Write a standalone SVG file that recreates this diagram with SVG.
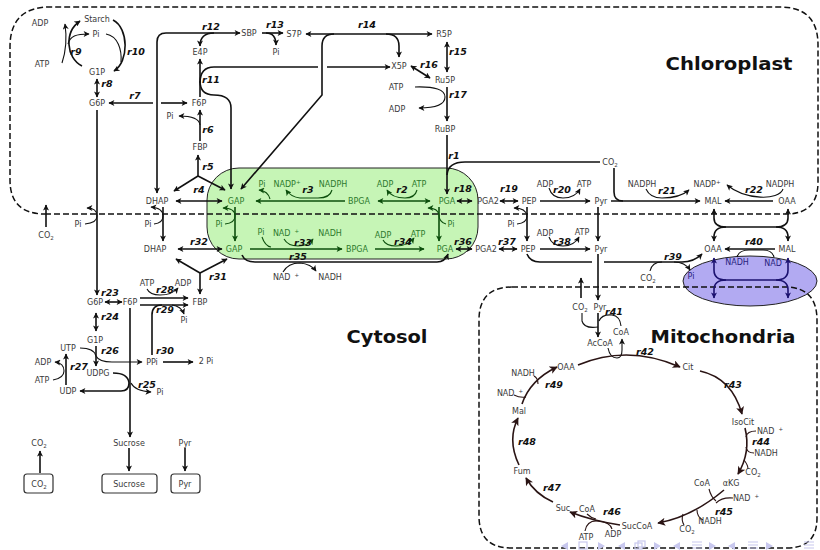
<svg xmlns="http://www.w3.org/2000/svg" width="820" height="550" viewBox="0 0 820 550">
<defs>
<style>
.k{fill:none;stroke:#111;stroke-width:1.6}
.c{fill:none;stroke:#111;stroke-width:1.1}
.g{stroke:#0d4f0d}
.n{stroke:#1c1270}
.x{stroke:#2a1414}
.e{marker-end:url(#ah)}
.s{marker-start:url(#ah)}
.ge{marker-end:url(#ahg)}
.gs{marker-start:url(#ahg)}
.ne{marker-end:url(#ahn)}
.ns{marker-start:url(#ahn)}
.xe{marker-end:url(#ahx)}
.t{font-family:"DejaVu Sans","Liberation Sans",sans-serif;font-size:8px;fill:#3a3a3a;text-anchor:middle}
.tg{fill:#2d7a2d}
.tn{fill:#281d80}
.r{font-family:"DejaVu Sans","Liberation Sans",sans-serif;font-size:9.5px;font-weight:bold;font-style:italic;fill:#111;text-anchor:middle}
.h{font-family:"DejaVu Sans","Liberation Sans",sans-serif;font-size:18px;font-weight:bold;fill:#111;text-anchor:middle}
.dash{fill:none;stroke:#111;stroke-width:1.5;stroke-dasharray:6 3}
.box{fill:#fff;stroke:#333;stroke-width:1.2}
.nv{fill:#c8c8ee;stroke:none}
.nvl{fill:none;stroke:#c8c8ee;stroke-width:1.2}
</style>
<marker id="ah" viewBox="0 0 10 10" refX="9" refY="5" markerWidth="7" markerHeight="6" markerUnits="userSpaceOnUse" orient="auto-start-reverse"><path d="M0,0 L10,5 L0,10 L2.5,5 Z" fill="#111"/></marker>
<marker id="ahg" viewBox="0 0 10 10" refX="9" refY="5" markerWidth="7" markerHeight="6" markerUnits="userSpaceOnUse" orient="auto-start-reverse"><path d="M0,0 L10,5 L0,10 L2.5,5 Z" fill="#0d4f0d"/></marker>
<marker id="ahn" viewBox="0 0 10 10" refX="9" refY="5" markerWidth="7" markerHeight="6" markerUnits="userSpaceOnUse" orient="auto-start-reverse"><path d="M0,0 L10,5 L0,10 L2.5,5 Z" fill="#1c1270"/></marker>
<marker id="ahx" viewBox="0 0 10 10" refX="9" refY="5" markerWidth="9" markerHeight="8" markerUnits="userSpaceOnUse" orient="auto-start-reverse"><path d="M0,0 L10,5 L0,10 L2.5,5 Z" fill="#2a1414"/></marker>
</defs>
<rect width="820" height="550" fill="#fff"/>

<g id="regions">
<rect x="207" y="168" width="271" height="91" rx="32" fill="#c6f5b6" stroke="#222" stroke-width="1"/>
<ellipse cx="750" cy="281" rx="67" ry="25" fill="#b2aaf2" stroke="#222" stroke-width="1"/>
<path class="dash" d="M45 214 L786 214 Q818 214 818 182 L818 45 Q818 7 780 7 L50 7 Q10 7 10 47 L10 180 Q10 214 45 214 Z"/>
<path class="dash" d="M512 287 L785 287 Q817 287 817 320 L817 518 Q817 548 787 548 L511 548 Q479 548 479 516 L479 320 Q479 287 512 287 Z"/>
</g>

<g id="connectors">
<path class="k e" d="M82 66 C66 58 64 32 80 21"/>
<path class="c e" d="M62 63 Q68 45 65 24"/>
<path class="c e" d="M68 44 C70 36 76 34 89 34"/>
<path class="k e" d="M113 20 C129 28 129 62 114 71"/>
<path class="c" d="M106 34 C118 36 122 50 121 62"/>
<path class="k s e" d="M97 79 L97 97"/>
<path class="k s" d="M109 103 L153 103"/>
<path class="k e" d="M161 103 L187 103"/>
<path class="k e" d="M97 110 L97 295"/>
<path class="k e" d="M200 141 L200 110"/>
<path class="c e" d="M200 125 Q199 116 179 116"/>
<path class="k e" d="M198 176 L198 155"/>
<path class="k e" d="M198 176 L174 191"/>
<path class="k e" d="M198 176 L225 190"/>
<path class="k s e" d="M176 201 L222 201"/>
<path class="k s e" d="M157 193 L157 42 Q157 33 166 33 L240 33"/>
<path class="k e" d="M214 33 Q200 33 200 46"/>
<path class="k e" d="M200 97 L200 59"/>
<path class="k" d="M200 83 Q200 67 214 67 L318 67"/>
<path class="k e" d="M327 67 L390 67"/>
<path class="k e" d="M200 81 Q200 95 214 95 Q231 95 231 108 L231 189"/>
<path class="k e" d="M262 33 L283 33"/>
<path class="k e" d="M266 33 Q276 33 276 45"/>
<path class="k s e" d="M306 34 L432 34"/>
<path class="k e" d="M334 34 Q322 34 322 46 L322 95 L241 189"/>
<path class="k e" d="M386 34 Q399 34 399 46 L399 57"/>
<path class="k s e" d="M447 42 L447 72"/>
<path class="k s e" d="M411 66 L430 78"/>
<path class="k e" d="M447 87 L447 121"/>
<path class="c e" d="M415 87 Q445 86 445 97 Q445 108 419 108"/>
<path class="k e" d="M447 135 L447 194"/>
<path class="k" d="M600 162 L465 162 Q448 162 447 175"/>
<path class="k" d="M614 168 L614 192 Q614 201 623 201"/>
<path class="k g ge" d="M345 201 L256 201"/>
<path class="c g ge" d="M332 190 Q330 198 318 198 L300 198 Q291 197 286 190"/>
<path class="c g ge" d="M270 199 Q268 191 259 190"/>
<path class="k g gs ge" d="M378 201 L430 201"/>
<path class="c g ge" d="M417 190 Q415 198 405 198 Q392 198 387 190"/>
<path class="k g ge" d="M439 207 L439 241"/>
<path class="c g ge" d="M446 224 Q439 222 439 215 Q438 208 428 208"/>
<path class="k g ge" d="M235 207 L235 241"/>
<path class="c g ge" d="M225 224 Q235 223 235 216 Q235 208 223 208"/>
<path class="k s e" d="M457 201 L472 201"/>
<path class="k s e" d="M500 201 L518 201"/>
<path class="k e" d="M540 201 L590 201"/>
<path class="c e" d="M549 188 Q552 198 563 198 Q575 198 580 189"/>
<path class="k e" d="M611 201 L700 201"/>
<path class="c e" d="M646 189 Q650 198 662 198 Q680 198 689 190"/>
<path class="k e" d="M773 201 L725 201"/>
<path class="c e" d="M783 189 C779 201 745 200 727 185"/>
<path class="k s e" d="M714 209 L714 218 Q714 227 726 227 L776 227 Q788 227 788 218 L788 209"/>
<path class="k s" d="M714 241 L714 237 Q714 227 726 227"/>
<path class="k s" d="M788 241 L788 237 Q788 227 776 227"/>
<path class="k e" d="M46 227 L46 205"/>
<path class="c e" d="M85 224 Q97 223 97 216 Q97 208 87 208"/>
<path class="k e" d="M163 207 L163 241"/>
<path class="c e" d="M154 224 Q163 223 163 216 Q163 208 151 207"/>
<path class="k e" d="M527 207 L527 241"/>
<path class="c e" d="M517 224 Q527 223 527 216 Q526 208 514 208"/>
<path class="k e" d="M598 207 L598 241"/>
<path class="k s e" d="M178 249 L222 249"/>
<path class="k e" d="M200 273 L176 259"/>
<path class="k e" d="M200 273 L227 259"/>
<path class="k e" d="M200 273 L200 294"/>
<path class="k g ge" d="M250 249 L342 249"/>
<path class="c g ge" d="M284 239 Q288 246 298 246 Q308 246 313 239"/>
<path class="c g" d="M262 237 Q265 246 271 247"/>
<path class="k g ge" d="M375 249 L424 249"/>
<path class="c g ge" d="M383 240 Q386 246 396 246 Q408 246 414 238"/>
<path class="k s e" d="M456 249 L472 249"/>
<path class="k s e" d="M499 249 L517 249"/>
<path class="k e" d="M540 249 L590 249"/>
<path class="c e" d="M549 237 Q552 246 563 246 Q574 246 579 237"/>
<path class="k e" d="M242 255 Q245 262 255 262 L437 262 Q445 262 448 254"/>
<path class="c e" d="M283 272 Q288 263 300 263 Q311 264 316 271"/>
<path class="k" d="M527 254 Q530 262 540 262 L592 262"/>
<path class="k e" d="M604 262 L682 262 Q694 262 702 254"/>
<path class="c" d="M650 271 Q652 262 662 262"/>
<path class="c e" d="M674 262 Q685 262 690 270"/>
<path class="k e" d="M775 249 L725 249"/>
<path class="c" d="M737 257 Q739 250 749 250 L763 250 Q772 250 774 257"/>
<path class="k n ns ne" d="M714 258 L714 270 Q714 280 726 280 L776 280 Q788 280 788 270 L788 258"/>
<path class="k n ns" d="M714 298 L714 290 Q714 280 726 280"/>
<path class="k n ns" d="M788 298 L788 290 Q788 280 776 280"/>
<path class="k s e" d="M105 302 L122 302"/>
<path class="k e" d="M140 298 L188 298"/>
<path class="c e" d="M147 289 Q150 295 160 295 Q172 295 178 288"/>
<path class="k e" d="M140 305 L188 305"/>
<path class="c e" d="M172 305 Q181 306 184 314"/>
<path class="k" d="M152 355 L152 315 Q152 305 162 305"/>
<path class="k e" d="M163 362 L193 362"/>
<path class="k s e" d="M96 313 L96 331"/>
<path class="k e" d="M96 346 L96 366"/>
<path class="c e" d="M80 348 Q94 348 96 356 Q99 362 112 362 L142 362"/>
<path class="k e" d="M66 385 L66 354"/>
<path class="c e" d="M53 380 Q64 378 64 371 Q64 363 55 362"/>
<path class="k e" d="M113 373 Q128 373 129 383 Q129 391 121 391 L80 391"/>
<path class="c e" d="M131 383 Q135 391 151 392"/>
<path class="k e" d="M130 308 L130 437"/>
<path class="k e" d="M40 473 L40 451"/>
<path class="k e" d="M129 448 L129 471"/>
<path class="k e" d="M185 448 L185 471"/>
<path class="k e" d="M598 254 L598 300"/>
<path class="k e" d="M581 298 L581 278"/>
<path class="k e" d="M598 313 L598 337"/>
<path class="c" d="M598 327 Q584 329 582 321 L582 313"/>
<path class="c" d="M599 321 Q602 314 612 315 Q620 316 621 326"/>
<path class="c e" d="M608 348 Q610 358 617 358 Q622 358 622 350 L622 339"/>
<path class="k x xe" d="M578 365 Q628 344 680 367"/>
<path class="k x xe" d="M700 371 Q732 378 742 414"/>
<path class="k x xe" d="M745 428 Q751 452 738 474"/>
<path class="c x" d="M746 437 Q747 431 756 431"/>
<path class="c x" d="M746 447 Q747 453 754 453"/>
<path class="c x" d="M744 460 Q748 465 748 469"/>
<path class="k x xe" d="M724 490 Q692 517 658 523"/>
<path class="c x" d="M709 489 Q711 497 716 501"/>
<path class="c x" d="M733 498 Q722 497 716 503"/>
<path class="c x" d="M697 510 Q697 517 703 520"/>
<path class="c x" d="M683 514 Q681 520 684 525"/>
<path class="k x xe" d="M620 525 Q593 521 570 512"/>
<path class="c x" d="M587 514 Q591 518 596 519"/>
<path class="c x" d="M585 531 Q587 520 598 521 Q610 522 612 529"/>
<path class="k x xe" d="M553 502 Q535 494 526 478"/>
<path class="k x xe" d="M519 465 Q507 440 518 418"/>
<path class="k x xe" d="M522 404 Q530 380 557 367"/>
<path class="c x" d="M514 395 Q520 398 526 397"/>
<path class="c x" d="M534 376 Q538 378 538 384"/>
</g>

<g id="boxes">
<rect class="box" x="24" y="474" width="29" height="19" rx="3"/>
<rect class="box" x="102" y="474" width="55" height="19" rx="3"/>
<rect class="box" x="171" y="474" width="29" height="19" rx="3"/>
</g>

<g class="t">
<g id="c-starch"><text x="97" y="22">Starch</text></g>
<g id="c-g1p"><text x="97" y="75">G1P</text></g>
<g id="c-g6p"><text x="97" y="106">G6P</text></g>
<g id="c-f6p"><text x="199" y="106">F6P</text></g>
<g id="c-fbp"><text x="200" y="150">FBP</text></g>
<g id="c-e4p"><text x="200" y="55">E4P</text></g>
<g id="c-sbp"><text x="249" y="36">SBP</text></g>
<g id="c-s7p"><text x="294" y="37">S7P</text></g>
<g id="c-r5p"><text x="444" y="37">R5P</text></g>
<g id="c-x5p"><text x="399" y="69">X5P</text></g>
<g id="c-ru5p"><text x="445" y="83">Ru5P</text></g>
<g id="c-rubp"><text x="445" y="132">RuBP</text></g>
<g id="c-co2"><text x="610" y="165">CO<tspan font-size="5.5" dy="2">2</tspan></text></g>
<g id="c-dhap"><text x="157" y="204">DHAP</text></g>
<g id="c-gap"><text class="tg" x="236" y="204">GAP</text></g>
<g id="c-bpga"><text class="tg" x="359" y="204">BPGA</text></g>
<g id="c-pga"><text class="tg" x="447" y="204">PGA</text></g>
<g id="c-pga2"><text x="488" y="204">PGA2</text></g>
<g id="c-pep"><text x="529" y="204">PEP</text></g>
<g id="c-pyr"><text x="601" y="204">Pyr</text></g>
<g id="c-mal"><text x="713" y="204">MAL</text></g>
<g id="c-oaa"><text x="787" y="204">OAA</text></g>

<g id="y-dhap"><text x="155" y="252">DHAP</text></g>
<g id="y-gap"><text class="tg" x="234" y="252">GAP</text></g>
<g id="y-bpga"><text class="tg" x="357" y="252">BPGA</text></g>
<g id="y-pga"><text class="tg" x="445" y="252">PGA</text></g>
<g id="y-pga2"><text x="486" y="252">PGA2</text></g>
<g id="y-pep"><text x="528" y="252">PEP</text></g>
<g id="y-pyr"><text x="601" y="252">Pyr</text></g>
<g id="y-oaa"><text x="713" y="252">OAA</text></g>
<g id="y-mal"><text x="787" y="252">MAL</text></g>
<g id="y-g6p"><text x="95" y="305">G6P</text></g>
<g id="y-f6p"><text x="130" y="305">F6P</text></g>
<g id="y-fbp"><text x="200" y="305">FBP</text></g>
<g id="y-g1p"><text x="95" y="343">G1P</text></g>
<g id="y-utp"><text x="68" y="351">UTP</text></g>
<g id="y-ppi"><text x="152" y="365">PPi</text></g>
<g id="y-udpg"><text x="98" y="376">UDPG</text></g>
<g id="y-udp"><text x="68" y="394">UDP</text></g>
<g id="y-sucrose"><text x="129" y="446">Sucrose</text></g>
<g id="y-pyrout"><text x="185" y="446">Pyr</text></g>
<g id="y-co2out"><text x="39" y="446">CO<tspan font-size="5.5" dy="2">2</tspan></text></g>
<g id="x-co2"><text x="39" y="487">CO<tspan font-size="5.5" dy="2">2</tspan></text></g>
<g id="x-sucrose"><text x="129" y="487">Sucrose</text></g>
<g id="x-pyr"><text x="185" y="487">Pyr</text></g>

<g id="m-pyr"><text x="600" y="310">Pyr</text></g>
<g id="m-co2"><text x="580" y="310">CO<tspan font-size="5.5" dy="2">2</tspan></text></g>
<g id="m-accoa"><text x="600" y="346">AcCoA</text></g>
<g id="m-oaa"><text x="566" y="370">OAA</text></g>
<g id="m-cit"><text x="688" y="370">Cit</text></g>
<g id="m-isocit"><text x="743" y="425">IsoCit</text></g>
<g id="m-akg"><text x="731" y="486">αKG</text></g>
<g id="m-succoa"><text x="637" y="529">SucCoA</text></g>
<g id="m-suc"><text x="563" y="511">Suc</text></g>
<g id="m-fum"><text x="522" y="474">Fum</text></g>
<g id="m-mal"><text x="519" y="414">Mal</text></g>

<g id="cofactors">
<text x="40" y="26">ADP</text>
<text x="96" y="37">Pi</text>
<text x="42" y="67">ATP</text>
<text x="170" y="119">Pi</text>
<text x="276" y="55">Pi</text>
<text x="396" y="90">ATP</text>
<text x="397" y="112">ADP</text>
<text class="tg" x="262" y="187">Pi</text>
<text class="tg" x="287" y="187">NADP<tspan font-size="5.5" dy="-3">+</tspan></text>
<text class="tg" x="333" y="187">NADPH</text>
<text class="tg" x="385" y="187">ADP</text>
<text class="tg" x="419" y="187">ATP</text>
<text x="545" y="187">ADP</text>
<text x="584" y="187">ATP</text>
<text x="642" y="187">NADPH</text>
<text x="707" y="187">NADP<tspan font-size="5.5" dy="-3">+</tspan></text>
<text x="780" y="187">NADPH</text>
<text x="46" y="238">CO<tspan font-size="5.5" dy="2">2</tspan></text>
<text x="78" y="227">Pi</text>
<text x="148" y="227">Pi</text>
<text class="tg" x="219" y="227">Pi</text>
<text class="tg" x="451" y="227">Pi</text>
<text x="511" y="227">Pi</text>
<text class="tg" x="261" y="235">Pi</text>
<text class="tg" x="286" y="236">NAD<tspan font-size="5.5" dx="4" dy="-3">+</tspan></text>
<text class="tg" x="330" y="236">NADH</text>
<text class="tg" x="383" y="238">ADP</text>
<text class="tg" x="418" y="237">ATP</text>
<text x="545" y="236">ADP</text>
<text x="582" y="235">ATP</text>
<text x="286" y="280">NAD<tspan font-size="5.5" dx="4" dy="-3">+</tspan></text>
<text x="330" y="280">NADH</text>
<text x="648" y="281">CO<tspan font-size="5.5" dy="2">2</tspan></text>
<text class="tn" x="691" y="279">Pi</text>
<text class="tn" x="737" y="265">NADH</text>
<text class="tn" x="773" y="266">NAD</text>
<text x="147" y="286">ATP</text>
<text x="183" y="286">ADP</text>
<text x="184" y="323">Pi</text>
<text x="206" y="364">2 Pi</text>
<text x="43" y="365">ADP</text>
<text x="42" y="383">ATP</text>
<text x="160" y="395">Pi</text>
<text x="621" y="335">CoA</text>
<text x="523" y="376">NADH</text>
<text x="510" y="396">NAD<tspan font-size="5.5" dx="4" dy="-3">+</tspan></text>
<text x="770" y="434">NAD<tspan font-size="5.5" dx="4" dy="-3">+</tspan></text>
<text x="766" y="456">NADH</text>
<text x="753" y="475">CO<tspan font-size="5.5" dy="2">2</tspan></text>
<text x="702" y="486">CoA</text>
<text x="746" y="501">NAD<tspan font-size="5.5" dx="4" dy="-3">+</tspan></text>
<text x="710" y="524">NADH</text>
<text x="687" y="532">CO<tspan font-size="5.5" dy="2">2</tspan></text>
<text x="587" y="512">CoA</text>
<text x="586" y="540">ATP</text>
<text x="613" y="537">ADP</text>
</g>
</g>

<g id="reaction-labels" class="r">
<text x="454" y="159">r1</text>
<text x="402" y="193">r2</text>
<text x="308" y="193">r3</text>
<text x="199" y="193">r4</text>
<text x="208" y="170">r5</text>
<text x="208" y="133">r6</text>
<text x="135" y="99">r7</text>
<text x="107" y="87">r8</text>
<text x="76" y="55">r9</text>
<text x="136" y="55">r10</text>
<text x="211" y="83">r11</text>
<text x="211" y="30">r12</text>
<text x="275" y="28">r13</text>
<text x="367" y="28">r14</text>
<text x="458" y="55">r15</text>
<text x="429" y="68">r16</text>
<text x="458" y="98">r17</text>
<text x="463" y="192">r18</text>
<text x="509" y="192">r19</text>
<text x="562" y="193">r20</text>
<text x="667" y="194">r21</text>
<text x="754" y="193">r22</text>
<text x="110" y="296">r23</text>
<text x="110" y="320">r24</text>
<text x="147" y="388">r25</text>
<text x="110" y="354">r26</text>
<text x="79" y="370">r27</text>
<text x="165" y="293">r28</text>
<text x="165" y="313">r29</text>
<text x="165" y="354">r30</text>
<text x="218" y="280">r31</text>
<text x="199" y="245">r32</text>
<text x="303" y="246">r33</text>
<text x="403" y="245">r34</text>
<text x="298" y="260">r35</text>
<text x="463" y="245">r36</text>
<text x="507" y="245">r37</text>
<text x="562" y="245">r38</text>
<text x="673" y="260">r39</text>
<text x="754" y="245">r40</text>
<text x="614" y="315">r41</text>
<text x="645" y="355">r42</text>
<text x="733" y="388">r43</text>
<text x="761" y="445">r44</text>
<text x="724" y="515">r45</text>
<text x="612" y="515">r46</text>
<text x="552" y="491">r47</text>
<text x="527" y="445">r48</text>
<text x="554" y="388">r49</text>
</g>

<g id="compartment-labels" class="h">
<text x="729" y="70" textLength="127" lengthAdjust="spacingAndGlyphs">Chloroplast</text>
<text x="387" y="343" textLength="81" lengthAdjust="spacingAndGlyphs">Cytosol</text>
<text x="723" y="343" textLength="145" lengthAdjust="spacingAndGlyphs">Mitochondria</text>
</g>

<g id="nav">
<path class="nv" d="M561 546 L568 542 L568 550 Z"/>
<rect class="nvl" x="579" y="542" width="8" height="7"/>
<path class="nv" d="M605 546 L598 542 L598 550 Z"/>
<path class="nv" d="M618 546 L625 542 L625 550 Z"/>
<rect class="nvl" x="635" y="543" width="7" height="6"/>
<rect class="nvl" x="638" y="541" width="7" height="6"/>
<path class="nv" d="M661 546 L654 542 L654 550 Z"/>
<path class="nv" d="M673 546 L680 542 L680 550 Z"/>
<path class="nvl" d="M692 542 H702 M692 545 H702 M692 548 H702"/>
<path class="nv" d="M716 546 L709 542 L709 550 Z"/>
<path class="nv" d="M728 546 L735 542 L735 550 Z"/>
<path class="nvl" d="M748 542 H758 M748 545 H758 M748 548 H758"/>
<path class="nv" d="M773 546 L766 542 L766 550 Z"/>
<path class="nvl" d="M804 542 H814 M804 545 H814 M804 548 H814"/>
</g>
</svg>
